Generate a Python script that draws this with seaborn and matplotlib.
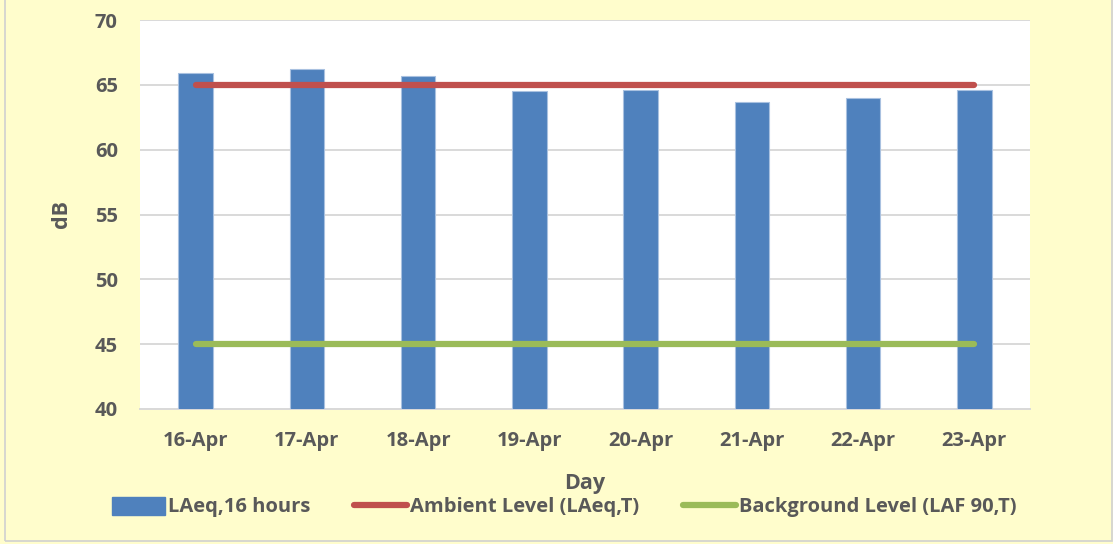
import numpy as np
import pandas as pd
import matplotlib
matplotlib.use("Agg")
import matplotlib.pyplot as plt
from matplotlib.patches import Patch, Rectangle
from matplotlib.lines import Line2D
import seaborn as sns

days = ["16-Apr", "17-Apr", "18-Apr", "19-Apr", "20-Apr", "21-Apr", "22-Apr", "23-Apr"]
laeq_16h = [65.9, 66.2, 65.7, 64.5, 64.6, 63.7, 64.0, 64.6]
ambient_level = [65, 65, 65, 65, 65, 65, 65, 65]
background_level = [45, 45, 45, 45, 45, 45, 45, 45]

BAR_BLUE = "#4F81BD"
RED = "#C0504D"
GREEN = "#9BBB59"
TEXT = "#595959"
GRID = "#D9D9D9"
BG = "#FFFDCC"

sns.set_theme(style="white")
plt.rcParams["font.family"] = ["Open Sans", "DejaVu Sans"]
plt.rcParams["font.weight"] = "bold"

df = pd.DataFrame({"Day": days, "LAeq": laeq_16h,
                   "Ambient": ambient_level, "Background": background_level,
                   "pos": np.arange(len(days))})

fig = plt.figure(figsize=(11.13, 5.44), dpi=100, facecolor=BG)
ax = fig.add_axes([140 / 1113, 1 - 409 / 544, 890 / 1113, 389 / 544])
ax.set_facecolor("white")

sns.barplot(data=df, x="Day", y="LAeq", color=BAR_BLUE, width=0.31,
            saturation=1, edgecolor="#A9C1E0", linewidth=0.8, ax=ax, zorder=3)
sns.lineplot(data=df, x="pos", y="Ambient", color=RED, linewidth=4.5,
             solid_capstyle="round", ax=ax, zorder=4)
sns.lineplot(data=df, x="pos", y="Background", color=GREEN, linewidth=4.5,
             solid_capstyle="round", ax=ax, zorder=4)

ax.set_ylim(40, 70)
ax.set_yticks(np.arange(40, 71, 5))
ax.set_xlim(-0.5, len(days) - 0.5)
ax.set_xticks(np.arange(len(days)))
ax.set_xticklabels(days)
ax.yaxis.grid(True, color=GRID, linewidth=1.4, zorder=0)
ax.set_axisbelow(True)
for side in ["top", "right", "left"]:
    ax.spines[side].set_visible(False)
ax.spines["bottom"].set_color(GRID)
ax.spines["bottom"].set_linewidth(1.4)
ax.tick_params(axis="both", length=0, labelsize=14.5, labelcolor=TEXT)
ax.tick_params(axis="x", pad=16)
ax.tick_params(axis="y", pad=16)
for lbl in ax.get_xticklabels() + ax.get_yticklabels():
    lbl.set_fontweight("bold")

ax.set_xlabel("Day", fontsize=15.5, fontweight="bold", color=TEXT, labelpad=16)
ax.set_ylabel("dB", fontsize=15.5, fontweight="bold", color=TEXT, labelpad=16)

handles = [
    Patch(facecolor=BAR_BLUE, edgecolor=BAR_BLUE),
    Line2D([0], [0], color=RED, linewidth=4.5, solid_capstyle="round"),
    Line2D([0], [0], color=GREEN, linewidth=4.5, solid_capstyle="round"),
]
labels = ["LAeq,16 hours", "Ambient Level (LAeq,T)", "Background Level (LAF 90,T)"]
fig.legend(handles, labels, loc="center", bbox_to_anchor=(0.507, 1 - 507 / 544),
           ncol=3, frameon=False, handlelength=2.6, handleheight=1.0,
           handletextpad=0.15, columnspacing=2.2,
           prop={"family": ["Open Sans", "DejaVu Sans"], "weight": "bold", "size": 14.5},
           labelcolor=TEXT)

fig.patches.append(Rectangle((5 / 1113, 3 / 544), 1 - 6 / 1113, 1 - 2 / 544,
                             transform=fig.transFigure, fill=False,
                             edgecolor="#D0D0D0", linewidth=1.2, zorder=-1))

fig.savefig("out.png", dpi=100, facecolor=BG)
